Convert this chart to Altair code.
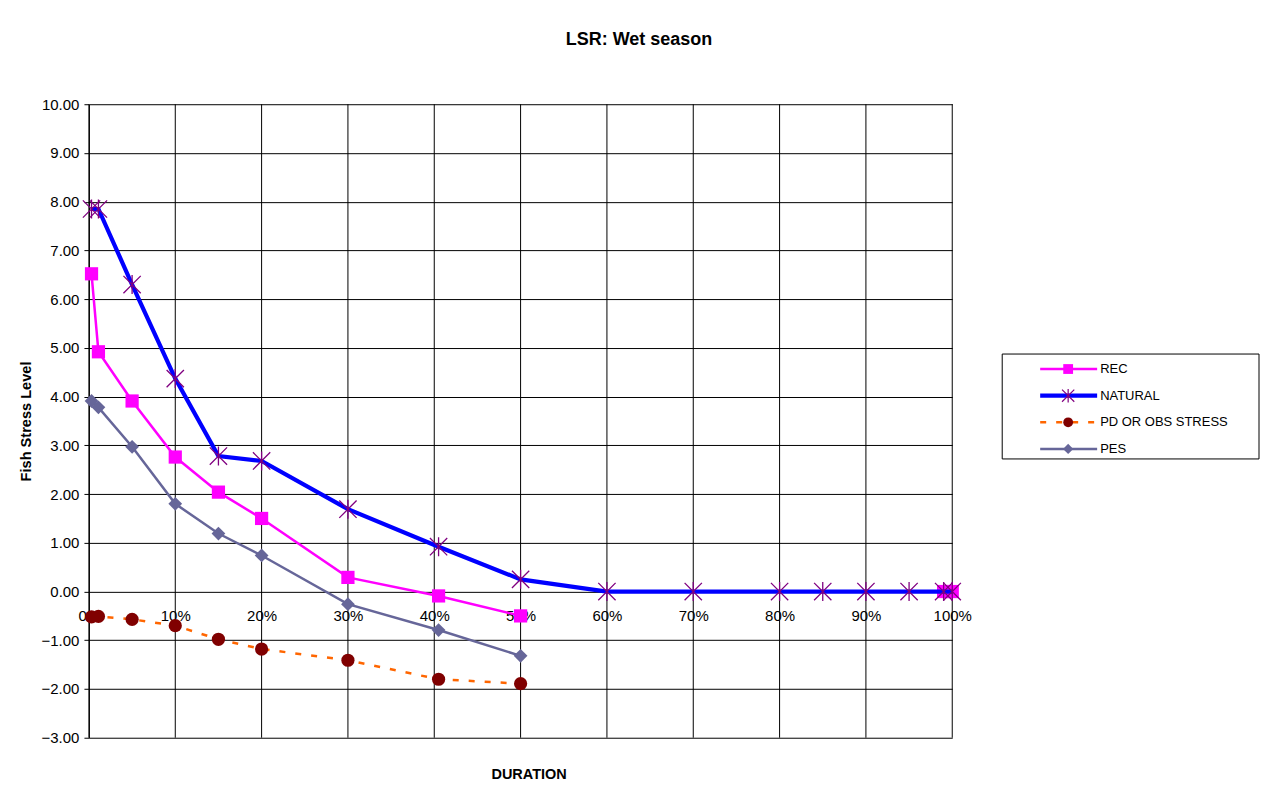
import altair as alt
import pandas as pd

# ---- data ----
duration = [0.3, 1.1, 5, 10, 15, 20, 30, 40.5, 50, 60, 70, 80, 85, 90, 95, 99, 100]
rec = [6.52, 4.92, 3.91, 2.76, 2.04, 1.50, 0.29, -0.09, -0.50,
       None, None, None, None, None, None, 0.0, 0.0]
natural = [7.85, 7.85, 6.30, 4.37, 2.78, 2.68, 1.69, 0.92, 0.25,
           0.0, 0.0, 0.0, 0.0, 0.0, 0.0, 0.0, 0.0]
pd_obs = [-0.52, -0.51, -0.57, -0.70, -0.98, -1.18, -1.41, -1.80, -1.89,
          None, None, None, None, None, None, None, None]
pes = [3.91, 3.78, 2.97, 1.80, 1.19, 0.74, -0.26, -0.79, -1.32,
       None, None, None, None, None, None, None, None]

series_names = ["REC", "NATURAL", "PD OR OBS STRESS", "PES"]
series_values = [rec, natural, pd_obs, pes]
y_ticks = list(range(-3, 11))
x_ticks = list(range(0, 101, 10))

FONT = "Liberation Sans"
STAR = "M-1,-1L1,1M-1,1L1,-1M0,-1.1L0,1.1"

styles = {
    "REC": dict(line="#FF00FF", width=2.5, dash=None, interp="linear",
                shape="square", mcolor="#FF00FF", filled=True, size=175),
    "NATURAL": dict(line="#0000FF", width=4.2, dash=None, interp="linear",
                    shape=STAR, mcolor="#800080", filled=False, size=300),
    "PD OR OBS STRESS": dict(line="#FF6600", width=2.5, dash=[6, 10], interp="linear",
                             shape="circle", mcolor="#800000", filled=True, size=175),
    "PES": dict(line="#666699", width=2.5, dash=None, interp="linear",
                shape="diamond", mcolor="#666699", filled=True, size=190),
}

# long table with path segments (gaps where values are blank)
rows = []
for name, vals in zip(series_names, series_values):
    seg = 0
    for d, v in zip(duration, vals):
        if v is None:
            seg += 1
            continue
        rows.append({"series": name, "dur": d, "val": v, "seg": seg})
df = pd.DataFrame(rows)

xscale = alt.Scale(domain=[0, 100], nice=False, zero=False)
yscale = alt.Scale(domain=[-3, 10], nice=False, zero=False)

W, H = 864, 634
zero_offset = -(3.0 / 13.0) * H

x_axis = alt.Axis(values=x_ticks, labelExpr="datum.value + '%'", grid=False, domain=False,
                  ticks=False, offset=zero_offset, labelPadding=17, labelFontSize=15,
                  labelColor="black", labelFlush=False, labelOverlap=False, labelBound=False,
                  title="DURATION", titleFontSize=14.5, titleFontWeight="bold",
                  titleColor="black", titleY=176, titleX=440)
y_axis = alt.Axis(values=y_ticks, format=".2f", grid=True, gridColor="black", gridOpacity=1,
                  gridWidth=1, domainColor="black", domainWidth=1, tickColor="black",
                  tickSize=5, labelFontSize=15, labelColor="black", labelPadding=5,
                  title="Fish Stress Level", titleFontSize=14.6, titleFontWeight="bold",
                  titleColor="black", titlePadding=8)

grid_v = alt.Chart(pd.DataFrame({"dur": x_ticks})).mark_rule(
    color="black", strokeWidth=1
).encode(x=alt.X("dur:Q", scale=xscale, axis=x_axis))

layers = [grid_v]
for name in series_names:
    st = styles[name]
    sub = df[df["series"] == name]
    line_kw = dict(color=st["line"], strokeWidth=st["width"], interpolate=st["interp"])
    if st["dash"]:
        line_kw["strokeDash"] = st["dash"]
    line = alt.Chart(sub).mark_line(**line_kw).encode(
        x=alt.X("dur:Q", scale=xscale, axis=x_axis),
        y=alt.Y("val:Q", scale=yscale, axis=y_axis),
        detail="seg:N",
        order="dur:Q",
    )
    if st["filled"]:
        pt = alt.Chart(sub).mark_point(shape=st["shape"], filled=True, color=st["mcolor"],
                                       size=st["size"], opacity=1)
    else:
        pt = alt.Chart(sub).mark_point(shape=st["shape"], filled=False, stroke=st["mcolor"],
                                       strokeWidth=1.3, size=st["size"], opacity=1)
    pt = pt.encode(
        x=alt.X("dur:Q", scale=xscale, axis=x_axis),
        y=alt.Y("val:Q", scale=yscale, axis=y_axis),
    )
    layers += [line, pt]

main = alt.layer(*layers).properties(width=W, height=H)

# ---- legend panel ----
leg_df = pd.DataFrame({"series": series_names, "rank": list(range(len(series_names)))})
leg_y = alt.Y("rank:Q", scale=alt.Scale(domain=[0, len(series_names) - 1],
                                         range=[265, 345], nice=False, zero=False),
              axis=None)
box = alt.Chart(pd.DataFrame({"a": [0]})).mark_rect(
    fill="white", stroke="black", strokeWidth=1
).encode(x=alt.value(0), x2=alt.value(257), y=alt.value(250), y2=alt.value(355))

leg_layers = [box]
for name in series_names:
    st = styles[name]
    sub = leg_df[leg_df["series"] == name]
    rule_kw = dict(color=st["line"], strokeWidth=st["width"])
    if st["dash"]:
        rule_kw["strokeDash"] = st["dash"]
    leg_layers.append(alt.Chart(sub).mark_rule(**rule_kw).encode(
        x=alt.value(38), x2=alt.value(95), y=leg_y))
    if st["filled"]:
        mk = alt.Chart(sub).mark_point(shape=st["shape"], filled=True, color=st["mcolor"],
                                       size=st["size"] * 0.55, opacity=1)
    else:
        mk = alt.Chart(sub).mark_point(shape=st["shape"], filled=False, stroke=st["mcolor"],
                                       strokeWidth=1.2, size=st["size"] * 0.5, opacity=1)
    leg_layers.append(mk.encode(x=alt.value(66), y=leg_y))
leg_layers.append(alt.Chart(leg_df).mark_text(
    align="left", baseline="middle", fontSize=13, color="black"
).encode(x=alt.value(98), y=leg_y, text="series:N"))

legend = alt.layer(*leg_layers).properties(width=258, height=H)

chart = alt.hconcat(main, legend, spacing=50, bounds="flush").properties(
    title=alt.TitleParams("LSR: Wet season", fontSize=18, fontWeight="bold",
                          anchor="middle", offset=48, color="black"),
    padding={"left": 10, "top": 23, "right": 5, "bottom": 5},
).configure(font=FONT).configure_view(strokeWidth=0)

chart.save("out.html", embed_options={"renderer": "svg", "actions": False})
